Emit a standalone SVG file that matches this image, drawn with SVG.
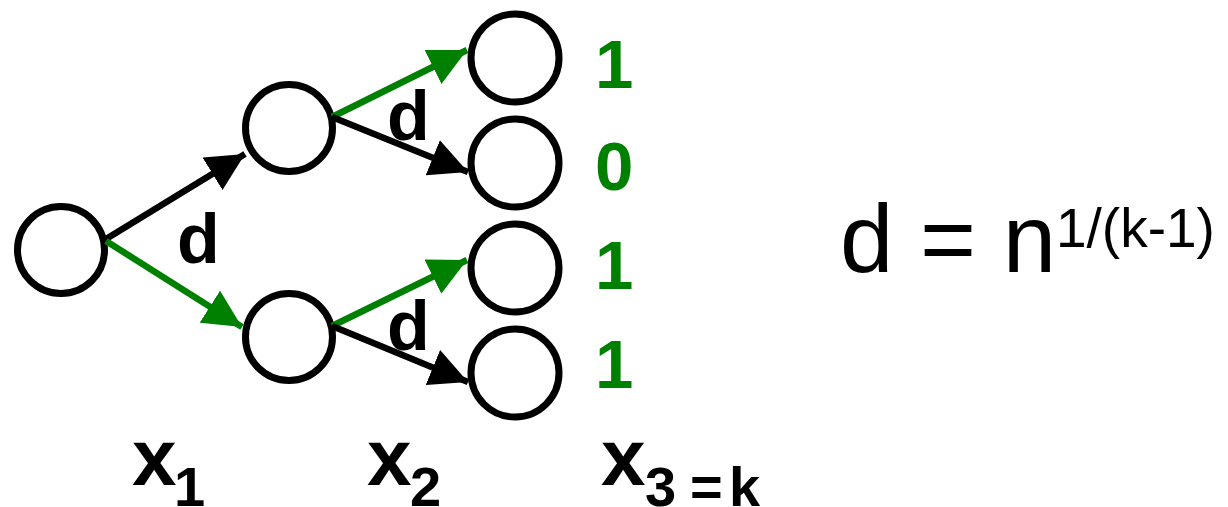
<svg xmlns="http://www.w3.org/2000/svg" width="1228" height="507" viewBox="0 0 1228 507">
<style>
.node{fill:#fff;stroke:#000;stroke-width:7}
.eb{stroke:#000;stroke-width:6.5;fill:none}
.eg{stroke:#008000;stroke-width:6.5;fill:none}
.lbl{font-family:"Liberation Sans",Arial,sans-serif;font-weight:bold;font-size:70px;fill:#000}
.val{font-family:"Liberation Sans",Arial,sans-serif;font-weight:bold;font-size:69px;fill:#008000}
.var{font-family:"Liberation Sans",Arial,sans-serif;font-weight:bold;font-size:80px;fill:#000}
.sub{font-family:"Liberation Sans",Arial,sans-serif;font-weight:bold;font-size:56px;fill:#000}
.eq{font-family:"Liberation Sans",Arial,sans-serif;fill:#000}
</style>
<defs>
<marker id="ab" markerUnits="userSpaceOnUse" markerWidth="40" markerHeight="38" refX="38" refY="19" orient="auto" viewBox="0 0 40 38"><path d="M0,0 L38,19 L0,38 z" fill="#000"/></marker>
<marker id="ag" markerUnits="userSpaceOnUse" markerWidth="40" markerHeight="38" refX="38" refY="19" orient="auto" viewBox="0 0 40 38"><path d="M0,0 L38,19 L0,38 z" fill="#008000"/></marker>
</defs>
<g id="root"><circle class="node" cx="61" cy="250" r="43.5"/></g>
<g id="mid-top"><circle class="node" cx="289" cy="128" r="43.5"/></g>
<g id="mid-bottom"><circle class="node" cx="289" cy="337" r="43.5"/></g>
<g id="leaf1"><circle class="node" cx="515" cy="58" r="44"/><text class="val" x="595" y="88">1</text></g>
<g id="leaf2"><circle class="node" cx="515" cy="163" r="44"/><text class="val" x="595" y="190">0</text></g>
<g id="leaf3"><circle class="node" cx="515" cy="268" r="44"/><text class="val" x="595" y="289">1</text></g>
<g id="leaf4"><circle class="node" cx="515" cy="373" r="44"/><text class="val" x="595" y="388">1</text></g>
<g id="connectors">
<line class="eb" x1="106" y1="239" x2="245" y2="154" marker-end="url(#ab)"/>
<line class="eg" x1="106" y1="241" x2="242" y2="327" marker-end="url(#ag)"/>
<line class="eg" x1="332" y1="117" x2="467" y2="50" marker-end="url(#ag)"/>
<line class="eb" x1="332" y1="117" x2="468" y2="172" marker-end="url(#ab)"/>
<line class="eg" x1="332" y1="326" x2="467" y2="260" marker-end="url(#ag)"/>
<line class="eb" x1="332" y1="326" x2="468" y2="382" marker-end="url(#ab)"/>
</g>
<g id="edge-labels">
<text class="lbl" x="177" y="263">d</text>
<text class="lbl" x="387" y="140">d</text>
<text class="lbl" x="387" y="350">d</text>
</g>
<g id="axis-labels">
<text class="var" x="132" y="485">x</text>
<text class="sub" x="174" y="506">1</text>
<text class="var" x="367" y="485">x</text>
<text class="sub" x="410" y="506">2</text>
<text class="var" x="601" y="485">x</text>
<text class="sub" x="645" y="506">3</text>
<text class="sub" x="690" y="506">=</text>
<text class="sub" x="729" y="506">k</text>
</g>
<g id="formula">
<text class="eq" font-size="96" x="840" y="272">d = n</text>
<text class="eq" font-size="55" x="1056" y="247">1/(k-1)</text>
</g>
</svg>
